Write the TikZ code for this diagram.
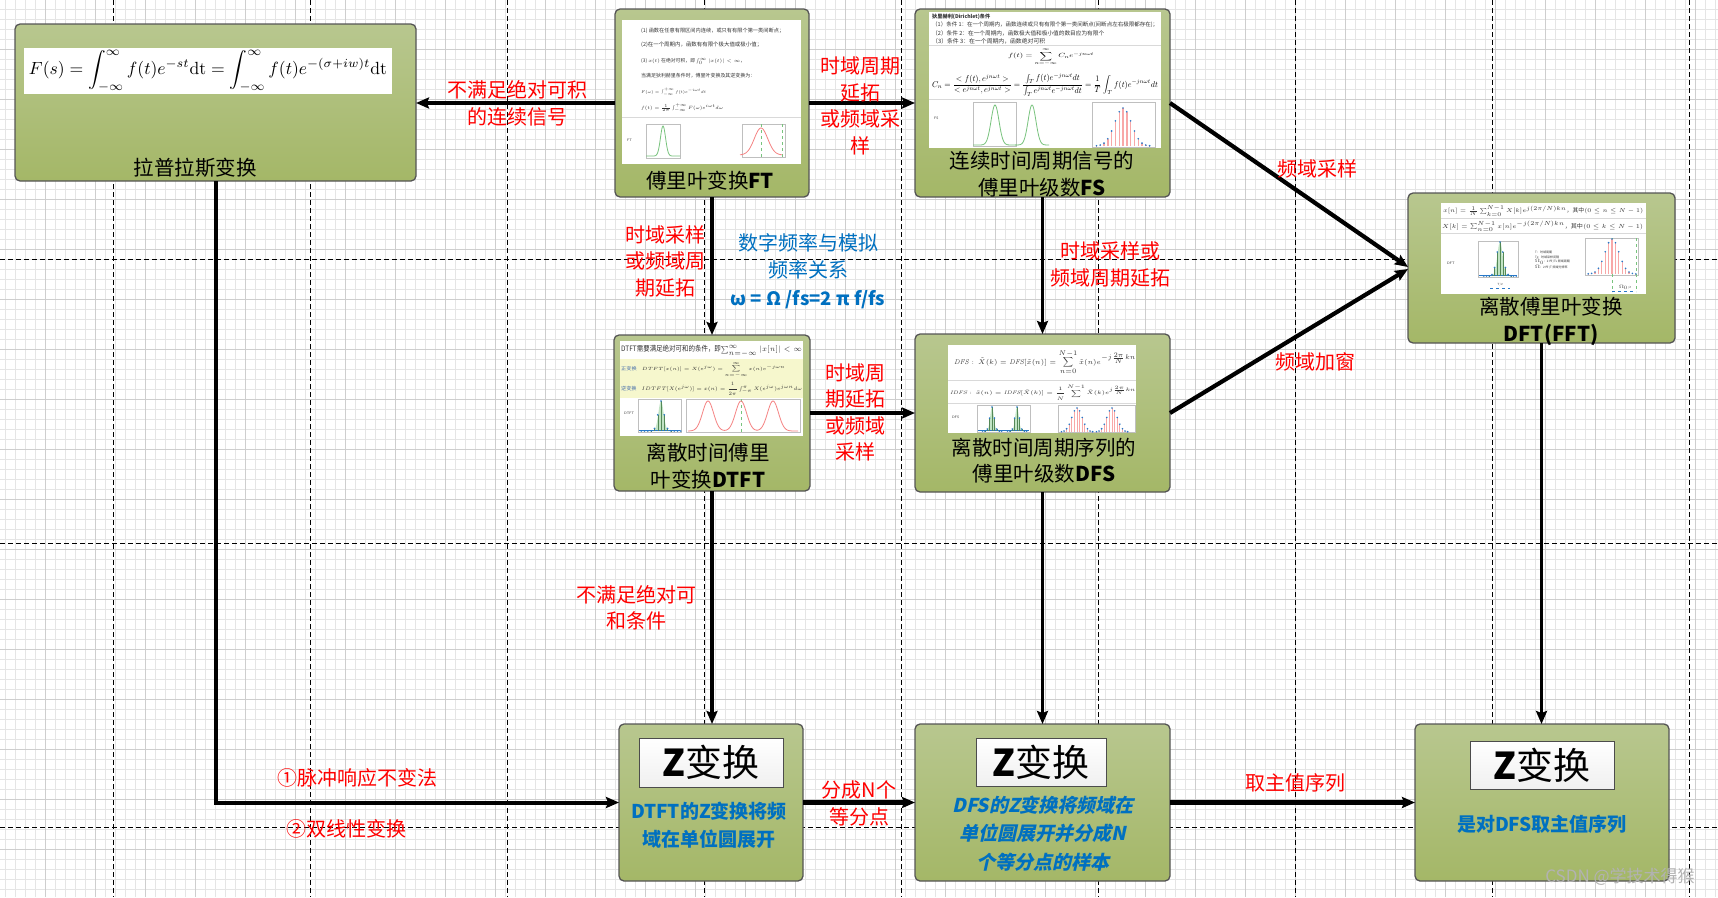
\documentclass[tikz,border=0pt]{standalone}
\usepackage{amsmath,amssymb}
\usepackage{graphicx}
\usepackage{fontspec}
\newfontfamily\cjk{Noto Sans CJK SC}
\newfontfamily\cjkit{Noto Sans CJK SC}[FakeSlant=0.22]
\usetikzlibrary{arrows.meta}
\definecolor{boxtop}{RGB}{184,199,143}
\definecolor{boxbot}{RGB}{164,183,103}
\definecolor{boxline}{RGB}{85,85,85}
\definecolor{lred}{RGB}{255,0,0}
\definecolor{lblue}{RGB}{0,112,192}
\definecolor{gmin}{RGB}{229,229,229}
\definecolor{gmaj}{RGB}{206,206,206}
\definecolor{pgreen}{RGB}{120,195,125}
\definecolor{pred}{RGB}{245,130,130}
\definecolor{pdot}{RGB}{40,120,200}
\definecolor{yband}{RGB}{246,247,205}
\definecolor{zhb}{RGB}{70,110,170}
\newcommand\fitw[2]{\resizebox{#1pt}{!}{#2}}
\newcommand\fitwh[3]{\resizebox*{#1pt}{#2pt}{#3}}
\newcommand\gss[6]{\draw[#6] plot[domain=-1:1,samples=61,smooth] ({#1+#3*\x},{#2-#4*exp(-((\x)*(\x))/(2*#5*#5))});}
\newcommand\stm[7]{\foreach \k in {-#4,...,#4}{\pgfmathsetmacro\hh{#5*exp(-((\k)*(\k))/(2*#6*#6))}\draw[#7] (#1+\k*#3,#2) -- (#1+\k*#3,#2-\hh); \fill[pdot] (#1+\k*#3,#2-\hh) circle (0.9pt);}}
\begin{document}
\begin{tikzpicture}[x=1pt,y=-1pt,
  gbox/.style={draw=boxline,line width=1.3pt,rounded corners=5pt,top color=boxtop,bottom color=boxbot,anchor=north west,inner sep=0pt,outer sep=0pt},
  arr/.style={line width=#1,-{Stealth[length=13pt,width=11pt,inset=2pt]}},
  arr/.default=4pt,
  rl/.style={text=lred,font=\cjk\fontsize{20}{26.5}\selectfont,align=center,inner sep=1pt},
  bl/.style={text=black,font=\cjk\fontsize{20.5}{26.5}\selectfont,align=center,inner sep=1pt},
  tiny/.style={font=\cjk\fontsize{5}{6}\selectfont,anchor=west,inner sep=0pt,text=black!80},
  pf/.style={draw=black!25,line width=0.3pt},
  sep/.style={draw=black!15,line width=0.5pt},
  zw/.style={draw=black!70,line width=1pt,top color=white,bottom color=black!6,inner sep=0pt,font=\cjk\fontsize{37}{40}\selectfont}
]
\useasboundingbox (0,0) rectangle (1718,897);
\fill[white] (0,0) rectangle (1718,897);
% grid
\foreach \i in {5,15,...,1715} {\draw[gmin,line width=0.9pt] (\i,0) -- (\i,897);}
\foreach \j in {9,19,...,889} {\draw[gmin,line width=0.9pt] (0,\j) -- (1718,\j);}
\foreach \i in {45,95,...,1695} {\draw[gmaj,line width=1pt] (\i,0) -- (\i,897);}
\foreach \j in {49,99,...,849} {\draw[gmaj,line width=1pt] (0,\j) -- (1718,\j);}
\foreach \i in {113,310.1,507.2,704.3,901.4,1098.5,1295.6,1492.7,1689.8} {\draw[black,line width=0.9pt,dash pattern=on 5pt off 3pt] (\i,0) -- (\i,897);}
\foreach \j in {259,543,827} {\draw[black,line width=0.9pt,dash pattern=on 5pt off 3pt] (0,\j) -- (1718,\j);}

% boxes
\node[gbox,minimum width=401pt,minimum height=157pt] (lap) at (15,24) {};
\node[gbox,minimum width=194pt,minimum height=188pt] (ft) at (615,9) {};
\node[gbox,minimum width=255pt,minimum height=188pt] (fs) at (915,9) {};
\node[gbox,minimum width=267pt,minimum height=150pt] (dft) at (1408,193) {};
\node[gbox,minimum width=196pt,minimum height=156pt] (dtft) at (614,335) {};
\node[gbox,minimum width=255pt,minimum height=158pt] (dfs) at (915,334) {};
\node[gbox,minimum width=184pt,minimum height=157pt] (z1) at (619,724) {};
\node[gbox,minimum width=255pt,minimum height=157pt] (z2) at (915,724) {};
\node[gbox,minimum width=254pt,minimum height=157pt] (z3) at (1415,724) {};

% Laplace content
\fill[white] (24,48) rectangle (392,94);
\node[inner sep=0pt] (lapf) at (208,71) {\fitw{358}{$\displaystyle F(s)=\int_{-\infty}^{\infty}f(t)e^{-st}\mathrm{dt}=\int_{-\infty}^{\infty}f(t)e^{-(\sigma+iw)t}\mathrm{dt}$}};
\node[bl] (lapl) at (195,168) {拉普拉斯变换};

% FT image
\fill[white] (622,20) rectangle (801,164);
\node[tiny] (ft1) at (641,31) {\fitw{143}{(1) 函数在任意有限区间内连续，或只有有限个第一类间断点；}};
\node[tiny] (ft2) at (641,45) {\fitw{121}{(2)在一个周期内，函数有有限个极大值或极小值；}};
\node[tiny] (ft3) at (641,61) {\fitw{104}{(3) $x(t)$ 在绝对可积，即 $\int_0^{\infty}|x(t)|<\infty$，}};
\node[tiny] (ft4) at (641,76) {\fitw{114}{当满足狄利赫里条件时，傅里叶变换及其逆变换为：}};
\node[tiny] (ft5) at (641,92) {\fitw{65}{$F(\omega)=\int_{-\infty}^{+\infty}f(t)e^{-i\omega t}dt$}};
\node[tiny] (ft6) at (641,108) {\fitw{82}{$f(t)=\frac{1}{2\pi}\int_{-\infty}^{+\infty}F(\omega)e^{i\omega t}d\omega$}};
\draw[sep] (622,117) -- (801,117);
\node[tiny,font=\sffamily\fontsize{3.5}{4}\selectfont] (ftl) at (627,140) {FT};
\draw[pf] (646,124) rectangle (680,158);
\gss{663}{156}{17}{30}{0.15}{pgreen,line width=0.8pt}
\draw[pf] (742,124) rectangle (785,157);
\draw[pgreen,dashed,line width=0.4pt] (761,124) -- (761,157) (782,124) -- (782,157);
\gss{761}{155}{21}{27}{0.32}{pred,line width=0.8pt}
\node[bl] (ftlab) at (710,181) {傅里叶变换{\bfseries FT}};

% FS image
\fill[white] (929,12) rectangle (1161,148);
\node[tiny,font=\cjk\bfseries\fontsize{5}{6}\selectfont] (fs0) at (932,17) {\fitw{58}{狄里赫利(Dirichlet)条件}};
\node[tiny] (fs1) at (932,25) {\fitw{226}{（1）条件 1：在一个周期内，函数连续或只有有限个第一类间断点(间断点左右极限都存在)；}};
\node[tiny] (fs2) at (932,33) {\fitw{172}{（2）条件 2：在一个周期内，函数极大值和极小值的数目应为有限个}};
\node[tiny] (fs3) at (932,41) {\fitw{113}{（3）条件 3：在一个周期内，函数绝对可积}};
\draw[sep] (929,45) -- (1161,45);
\node[inner sep=0pt] (fsf1) at (1051,57) {\fitwh{86}{18}{$\displaystyle f(t)=\sum_{n=-\infty}^{\infty}C_n e^{-jn\omega t}$}};
\node[inner sep=0pt] (fsf2) at (1045,85) {\fitwh{226}{22}{$\displaystyle C_n=\frac{<f(t),e^{jn\omega t}>}{<e^{jn\omega t},e^{jn\omega t}>}=\frac{\int_T f(t)e^{-jn\omega t}dt}{\int_T e^{jn\omega t}e^{-jn\omega t}dt}=\frac{1}{T}\int_T f(t)e^{-jn\omega t}dt$}};
\draw[sep] (929,99) -- (1161,99);
\node[tiny,font=\sffamily\fontsize{3.5}{4}\selectfont] (fsl) at (934,118) {FS};
\draw[pf] (973,102) rectangle (1016,146);
\gss{995}{145}{22}{40}{0.18}{pgreen,line width=0.8pt}
\gss{1032}{145}{17}{40}{0.23}{pgreen,line width=0.8pt}
\draw[pf] (1092,102) rectangle (1155,147);
\stm{1123}{146}{3.8}{7}{38}{2.2}{pred!70,line width=1.4pt}
\node[bl] (fslab) at (1042,174) {连续时间周期信号的\\傅里叶级数{\bfseries FS}};

% DTFT image
\fill[white] (620,341) rectangle (803,436);
\fill[yband] (620,359) rectangle (803,398);
\node[tiny] (dt1) at (621,351) {\fitwh{181}{11}{DTFT需要满足绝对可和的条件，即$\sum_{n=-\infty}^{\infty}|x[n]|<\infty$}};
\node[tiny] (dt2) at (621,370) {\fitwh{164}{16}{{\color{zhb}正变换}\quad $DTFT[x(n)]=X(e^{j\omega})=\displaystyle\sum_{n=-\infty}^{\infty}x(n)e^{-j\omega n}$}};
\node[tiny] (dt3) at (621,389) {\fitwh{181}{13}{{\color{zhb}逆变换}\quad $IDTFT[X(e^{j\omega})]=x(n)=\dfrac{1}{2\pi}\int_{-\pi}^{\pi}X(e^{j\omega})e^{j\omega n}d\omega$}};
\node[tiny,font=\sffamily\fontsize{3.5}{4}\selectfont] (dtl) at (624,413) {DTFT};
\draw[pf] (638,399) rectangle (681,432);
\fill[pgreen!45] plot[domain=-1:1,samples=61,smooth] ({661+20*\x},{431-30*exp(-((\x)*(\x))/(2*0.13*0.13))}) -- cycle;
\draw[pdot,line width=0.8pt] (639,430) -- (680,430);
\stm{661}{431}{3.3}{6}{30}{0.9}{pgreen!70!black,line width=0.4pt}
\draw[pf] (686,399) rectangle (800,432);
\draw[pgreen,dashed,line width=0.4pt] (741,399) -- (741,432);
\draw[pred,line width=0.8pt] plot[domain=688:798,samples=160,smooth] (\x,{431-30*(exp(-((\x-708)*(\x-708))/60)+exp(-((\x-741)*(\x-741))/60)+exp(-((\x-773)*(\x-773))/60))});
\node[bl] (dtlab) at (708,466) {离散时间傅里\\叶变换{\bfseries DTFT}};

% DFS image
\fill[white] (948,345) rectangle (1136,433);
\node[tiny] (ds1) at (954,362) {\fitwh{182}{25}{$\displaystyle \mathit{DFS}:\ \tilde X(k)=\mathit{DFS}[\tilde x(n)]=\sum_{n=0}^{N-1}\tilde x(n)e^{-j\frac{2\pi}{N}kn}$}};
\draw[sep] (948,380) -- (1136,380);
\node[tiny] (ds2) at (950,392) {\fitwh{186}{16}{$\displaystyle \mathit{IDFS}:\ \tilde x(n)=\mathit{IDFS}[\tilde X(k)]=\frac{1}{N}\sum^{N-1}\tilde X(k)e^{j\frac{2\pi}{N}kn}$}};
\draw[sep] (948,403) -- (1136,403);
\node[tiny,font=\sffamily\fontsize{3.5}{4}\selectfont] (dsl) at (952,417) {DFS};
\draw[pf] (977,405) rectangle (1030,432);
\fill[pgreen!45] plot[domain=-1:1,samples=41,smooth] ({992+9*\x},{431-24*exp(-((\x)*(\x))/(2*0.2*0.2))}) -- cycle;
\fill[pgreen!45] plot[domain=-1:1,samples=41,smooth] ({1017+9*\x},{431-24*exp(-((\x)*(\x))/(2*0.2*0.2))}) -- cycle;
\draw[pdot,line width=0.7pt] (978,430) -- (1029,430);
\stm{992}{431}{2.4}{4}{24}{0.9}{pgreen!70!black,line width=0.4pt}
\stm{1017}{431}{2.4}{4}{24}{0.9}{pgreen!70!black,line width=0.4pt}
\draw[pf] (1058,405) rectangle (1135,432);
\stm{1077}{432}{2.6}{6}{24}{2}{pred!70,line width=1pt}
\stm{1112}{432}{2.6}{6}{24}{2}{pred!70,line width=1pt}
\node[bl] (dslab) at (1044,460.5) {离散时间周期序列的\\傅里叶级数{\bfseries DFS}};

% DFT image
\fill[white] (1441,203) rectangle (1646,294);
\node[tiny] (df1) at (1443,211) {\fitwh{200}{10}{$x[n]=\frac{1}{N}\sum_{k=0}^{N-1}X[k]e^{j(2\pi/N)kn}$，其中$(0\le n\le N-1)$}};
\draw[sep] (1441,218) -- (1646,218);
\node[tiny] (df2) at (1442,226) {\fitwh{201}{10}{$X[k]=\sum_{n=0}^{N-1}x[n]e^{-j(2\pi/N)kn}$，其中$(0\le k\le N-1)$}};
\draw[sep] (1441,233) -- (1646,233);
\node[tiny,font=\sffamily\fontsize{3.5}{4}\selectfont] (dfl) at (1447,263) {DFT};
\draw[pf] (1478,241) rectangle (1518,277);
\fill[pgreen!45] plot[domain=-1:1,samples=41,smooth] ({1500+12*\x},{276-34*exp(-((\x)*(\x))/(2*0.22*0.22))}) -- cycle;
\draw[pdot,line width=0.7pt] (1479,275) -- (1517,275);
\stm{1500}{276}{2.7}{6}{34}{1.2}{pgreen!70!black,line width=0.4pt}
\draw[pdot,dashed,line width=0.3pt] (1490,288) -- (1510,288);
\node[tiny,font=\sffamily\fontsize{3}{3}\selectfont,anchor=center] (dft2) at (1500,285) {T/2};
\node[tiny,font=\cjk\fontsize{3}{4.8}\selectfont,align=left] (dfleg) at (1535,260) {T：时域周期\\Ts：时域采样间隔\\$\Omega_0$：2$\pi$/Ts 频域周期\\$\Omega$：2$\pi$/T 频域分辨率};
\draw[pf] (1585,238) rectangle (1638,275);
\draw[pgreen,dashed,line width=0.3pt] (1612,238) -- (1612,292) (1636,238) -- (1636,292);
\stm{1612}{274}{3.4}{7}{35}{2.1}{pred!70,line width=1.2pt}
\draw[pdot,dashed,line width=0.3pt] (1612,291) -- (1636,291);
\node[tiny,font=\sffamily\fontsize{3}{3}\selectfont,anchor=center] (dft3) at (1625,287.5) {$\Omega_0$/2};
\node[bl] (dflab) at (1551,321.5) {离散傅里叶变换\\{\bfseries DFT(FFT)}};

% Z boxes content
\node[zw,minimum width=144pt,minimum height=49pt] (z1w) at (711,762.5) {{\bfseries Z}变换};
\node[zw,minimum width=130pt,minimum height=48pt] (z2w) at (1041,762) {{\bfseries Z}变换};
\node[zw,minimum width=144pt,minimum height=48pt] (z3w) at (1542,765) {{\bfseries Z}变换};
\node[text=lblue,font=\cjk\bfseries\fontsize{19}{28}\selectfont,align=center] (z1t) at (709,825) {DTFT的Z变换将频\\域在单位圆展开};
\node[text=lblue,font=\cjkit\bfseries\fontsize{19}{28.5}\selectfont,align=center] (z2t) at (1043,833.5) {DFS的Z变换将频域在\\单位圆展开并分成N\\个等分点的样本};
\node[text=lblue,font=\cjk\bfseries\fontsize{19}{28}\selectfont,align=center] (z3t) at (1542,824) {是对DFS取主值序列};

% arrows
\draw[arr=4.5pt] (ft.west) -- (ft.west -| lap.east);
\draw[arr=4.5pt] (ft.east) -- (ft.east -| fs.west);
\draw[arr=4.2pt] (fs.east) -- ([yshift=1pt]dft.west);
\draw[arr=4.2pt] (dfs.east) -- ([yshift=-1pt]dft.west);
\draw[arr=3.5pt] (ft.south) -- (ft.south |- dtft.north);
\draw[arr=3.5pt] (fs.south) -- (fs.south |- dfs.north);
\draw[arr=4pt] (dtft.east) -- (dtft.east -| dfs.west);
\draw[arr=3.5pt] (dtft.south) -- (dtft.south |- z1.north);
\draw[arr=3.5pt] (dfs.south) -- (dfs.south |- z2.north);
\draw[arr=3.5pt] (dft.south) -- (dft.south |- z3.north);
\draw[arr=4pt] (lap.south) |- (z1.west);
\draw[arr=4.5pt] (z1.east) -- (z1.east -| z2.west);
\draw[arr=4.5pt] (z2.east) -- (z2.east -| z3.west);

% labels
\node[rl] (l1) at (517,103.5) {不满足绝对可积\\的连续信号};
\node[rl] (l2) at (860,106) {时域周期\\延拓\\或频域采\\样};
\node[rl] (l3) at (1317,169) {频域采样};
\node[rl] (l4) at (1315,362) {频域加窗};
\node[rl] (l5) at (665,261) {时域采样\\或频域周\\期延拓};
\node[text=lblue,font=\cjk\fontsize{20}{27.5}\selectfont,align=center] (l6) at (808,271) {数字频率与模拟\\频率关系\\{\bfseries\fontsize{18.5}{27.5}\selectfont ω = Ω /fs=2 π f/fs}};
\node[rl] (l7) at (1110,264.5) {时域采样或\\频域周期延拓};
\node[rl] (l8) at (855,412.5) {时域周\\期延拓\\或频域\\采样};
\node[rl] (l9) at (636,608) {不满足绝对可\\和条件};
\node[rl] (l10) at (357,778) {①脉冲响应不变法};
\node[rl] (l11) at (346,829) {②双线性变换};
\node[rl] (l12) at (859,803.5) {分成N个\\等分点};
\node[rl] (l13) at (1295,783) {取主值序列};
\node[text=black!30,font=\cjk\fontsize{17}{20}\selectfont] (wm) at (1620,877) {CSDN @学技术得猴};
\end{tikzpicture}
\end{document}
